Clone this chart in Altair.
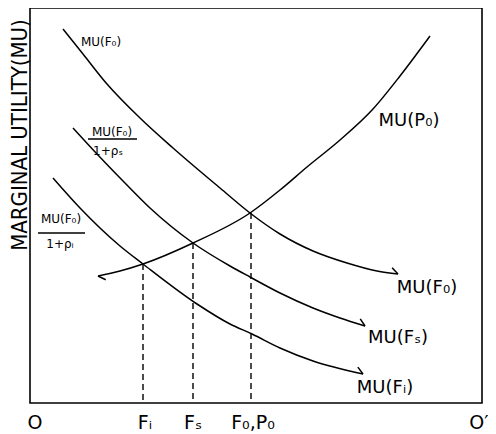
import math
import altair as alt
import pandas as pd

# ---- curve values (chart units, origin O at bottom-left) ----
f0_x = [33, 53, 77, 110, 143, 190, 220, 250, 283, 317, 347, 368]
f0_y = [374, 349, 319, 285, 255, 215, 190, 169, 152, 140, 132, 129]

fs_x = [43, 67, 93, 120, 163, 200, 220, 250, 283, 310, 335]
fs_y = [275, 249, 222, 195, 160, 137, 126, 110, 95, 85, 77]

fi_x = [23, 50, 90, 113, 167, 200, 222, 250, 283, 333]
fi_y = [225, 195, 157, 139, 99, 79, 69, 55, 42, 29]

p0_x = [68, 90, 113, 163, 220, 250, 277, 310, 343, 370, 400]
p0_y = [127, 132, 139, 160, 190, 213, 236, 263, 294, 327, 367]

# equilibrium points (intersections with MU(P0))
eq_x = [113, 163, 221]
eq_y = [139, 160, 190]

# labels
lab_text = ["MU(F₀)", "MU(F₀)", "1+ρₛ", "MU(F₀)", "1+ρᵢ",
            "MU(P₀)", "MU(F₀)", "MU(Fₛ)", "MU(Fᵢ)",
            "O", "Fᵢ", "Fₛ", "F₀,P₀", "O′"]
lab_x = [71, 82, 78, 31, 30, 379, 397, 368, 355, 5, 115, 163, 223, 449]
lab_y = [361, 271, 252, 184, 159, 282, 115, 65, 15, -20, -20, -20, -20, -20]
lab_size = [12, 12, 12, 12, 12, 18, 18, 18, 18, 19, 19, 19, 19, 19]

# fraction bars
bar_x = [58, 8]
bar_x2 = [107, 55]
bar_y = [264, 170]

W, H = 452, 395

rows = []
heads = []
for name, xs, ys, tip_first in [("F0", f0_x, f0_y, False), ("Fs", fs_x, fs_y, False),
                                ("Fi", fi_x, fi_y, False), ("P0", p0_x, p0_y, True)]:
    for i, (x, y) in enumerate(zip(xs, ys)):
        rows.append({"curve": name, "x": x, "y": y, "o": i})
    if tip_first:
        tx, ty, px, py = xs[0], ys[0], xs[1], ys[1]
    else:
        tx, ty, px, py = xs[-1], ys[-1], xs[-2], ys[-2]
    ang = math.degrees(math.atan2(-(ty - py), tx - px)) % 360
    heads.append({"x": tx, "y": ty, "angle": ang})

df = pd.DataFrame(rows)
dh = pd.DataFrame(heads)
deq = pd.DataFrame({"x": eq_x, "y": eq_y, "y0": [0] * len(eq_x)})
dl = pd.DataFrame({"t": lab_text, "x": lab_x, "y": lab_y, "s": lab_size})
db = pd.DataFrame({"x": bar_x, "x2": bar_x2, "y": bar_y})
dt = pd.DataFrame({"t": ["MARGINAL UTILITY(MU)"], "x": [-10], "y": [268]})

sx = alt.Scale(domain=[0, W], nice=False, zero=False)
sy = alt.Scale(domain=[0, H], nice=False, zero=False)
X = lambda f: alt.X(f, scale=sx, axis=None)
Y = lambda f: alt.Y(f, scale=sy, axis=None)

FONT = "DejaVu Sans"

lines = alt.Chart(df).mark_line(color="black", strokeWidth=1.5, interpolate="monotone").encode(
    x=X("x:Q"), y=Y("y:Q"), detail="curve:N", order="o:Q")

arrows = alt.Chart(dh).mark_point(shape="M 0 0 L -1 -0.8", filled=False, stroke="black",
                                  strokeWidth=1.5, size=180, opacity=1).encode(
    x=X("x:Q"), y=Y("y:Q"), angle=alt.Angle("angle:Q", scale=None))

dashes = alt.Chart(deq).mark_rule(color="black", strokeWidth=1.4, strokeDash=[6, 4]).encode(
    x=X("x:Q"), y=Y("y:Q"), y2="y0:Q")

bars = alt.Chart(db).mark_rule(color="black", strokeWidth=1.3).encode(
    x=X("x:Q"), x2="x2:Q", y=Y("y:Q"))

labels = alt.Chart(dl).mark_text(font=FONT, color="black", align="center", baseline="middle").encode(
    x=X("x:Q"), y=Y("y:Q"), text="t:N", size=alt.Size("s:Q", scale=None))

title = alt.Chart(dt).mark_text(font="DejaVu Sans Condensed", fontSize=22, angle=270, color="black",
                                align="center", baseline="middle").encode(
    x=X("x:Q"), y=Y("y:Q"), text="t:N")

chart = alt.layer(lines, arrows, dashes, bars, labels, title).properties(
    width=W, height=H, autosize="none",
    padding={"left": 22, "top": 0, "right": 6, "bottom": 31},
).configure_view(stroke="black", strokeWidth=1.6)

chart.save("out.html", embed_options={"renderer": "svg", "actions": False})
